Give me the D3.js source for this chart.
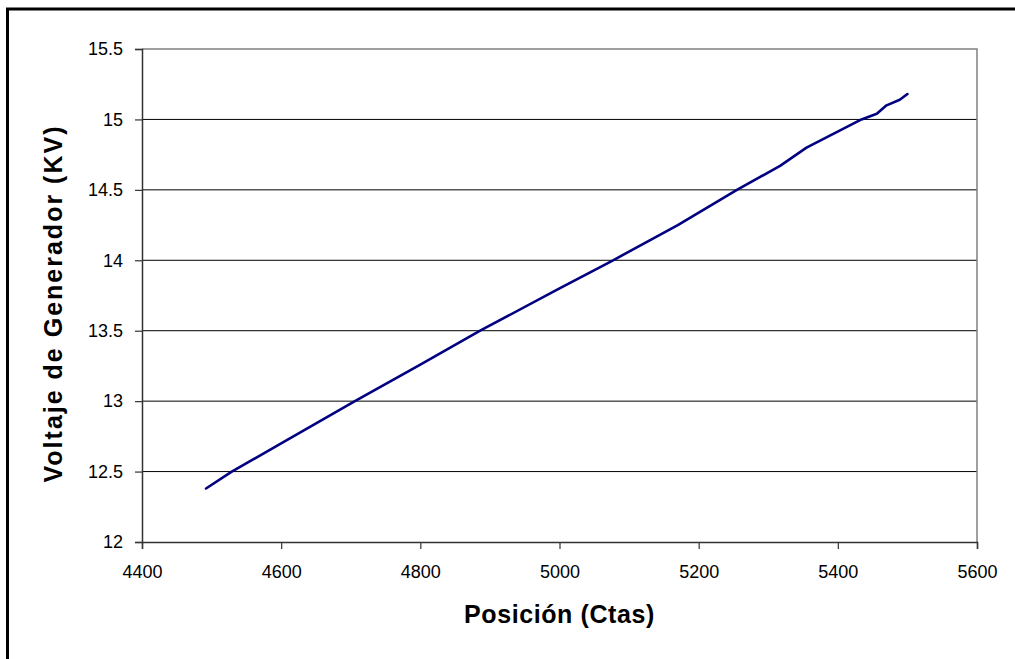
<!DOCTYPE html>
<html>
<head>
<meta charset="utf-8">
<script src="https://cdn.jsdelivr.net/npm/d3@7"></script>
<style>
  html, body { margin: 0; padding: 0; background: #fff; }
  svg { display: block; font-family: "Liberation Sans", Arial, sans-serif; }
</style>
</head>
<body>
<svg id="chart" width="1015" height="659"></svg>
<script>
// Generator voltage versus position (counts)
const position = [4492, 4529, 4600, 4706, 4800, 4886, 4996, 5077, 5170, 5255, 5317, 5355, 5434, 5456, 5470, 5489, 5500];
const voltage  = [12.38, 12.50, 12.70, 13.00, 13.26, 13.50, 13.79, 14.00, 14.25, 14.50, 14.67, 14.80, 15.00, 15.04, 15.10, 15.14, 15.18];

const xTicks = [4400, 4600, 4800, 5000, 5200, 5400, 5600];
const yTicks = [12, 12.5, 13, 13.5, 14, 14.5, 15, 15.5];

const xTitle = "Posición (Ctas)";
const yTitle = "Voltaje de Generador (KV)";

const svg = d3.select("#chart");
const plot = { left: 142, right: 977, top: 49, bottom: 542 };

const x = d3.scaleLinear().domain([4400, 5600]).range([plot.left, plot.right]);
const y = d3.scaleLinear().domain([12, 15.5]).range([plot.bottom, plot.top]);

// outer frame
svg.append("rect")
  .attr("x", 7.5).attr("y", 9)
  .attr("width", 1100).attr("height", 1000)
  .attr("fill", "none").attr("stroke", "#000").attr("stroke-width", 3);

// horizontal gridlines
svg.append("g")
  .selectAll("line")
  .data(yTicks.filter(v => v > 12 && v < 15.5))
  .join("line")
  .attr("x1", plot.left).attr("x2", plot.right)
  .attr("y1", d => y(d)).attr("y2", d => y(d))
  .attr("stroke", "#000").attr("stroke-width", 1);

// plot-area border (top and right, grey)
svg.append("path")
  .attr("d", `M${plot.left},${plot.top}H${plot.right}V${plot.bottom}`)
  .attr("fill", "none").attr("stroke", "#808080").attr("stroke-width", 1.5);

// axes
const xAxis = d3.axisBottom(x).tickValues(xTicks).tickSize(7).tickPadding(16).tickFormat(d3.format("d"));
const yAxis = d3.axisLeft(y).tickValues(yTicks).tickSize(7).tickPadding(12).tickFormat(d => String(d));

const gx = svg.append("g").attr("transform", `translate(0,${plot.bottom})`).call(xAxis);
const gy = svg.append("g").attr("transform", `translate(${plot.left},0)`).call(yAxis);

[gx, gy].forEach(g => {
  g.select(".domain").attr("stroke", "#333").attr("stroke-width", 1.5);
  g.selectAll(".tick line").attr("stroke", "#333").attr("stroke-width", 1.2);
  g.selectAll(".tick text")
    .attr("fill", "#000")
    .style("font-family", "'Liberation Sans', Arial, sans-serif")
    .style("font-size", "18px");
});
gx.selectAll(".tick text").attr("dy", "0.71em");

// data line
const line = d3.line().x(d => x(d[0])).y(d => y(d[1]));
svg.append("path")
  .datum(d3.zip(position, voltage))
  .attr("d", line)
  .attr("fill", "none")
  .attr("stroke", "#000080")
  .attr("stroke-width", 2.6)
  .attr("stroke-linejoin", "round")
  .attr("stroke-linecap", "round");

// axis titles
svg.append("text")
  .attr("x", (plot.left + plot.right) / 2).attr("y", 623)
  .attr("text-anchor", "middle")
  .style("font-size", "25px").style("font-weight", "bold")
  .style("letter-spacing", "0.6px")
  .text(xTitle);

svg.append("text")
  .attr("transform", `translate(62,${(plot.top + plot.bottom) / 2 + 8}) rotate(-90)`)
  .attr("text-anchor", "middle")
  .style("font-size", "25px").style("font-weight", "bold")
  .style("letter-spacing", "2px")
  .text(yTitle);
</script>
</body>
</html>
